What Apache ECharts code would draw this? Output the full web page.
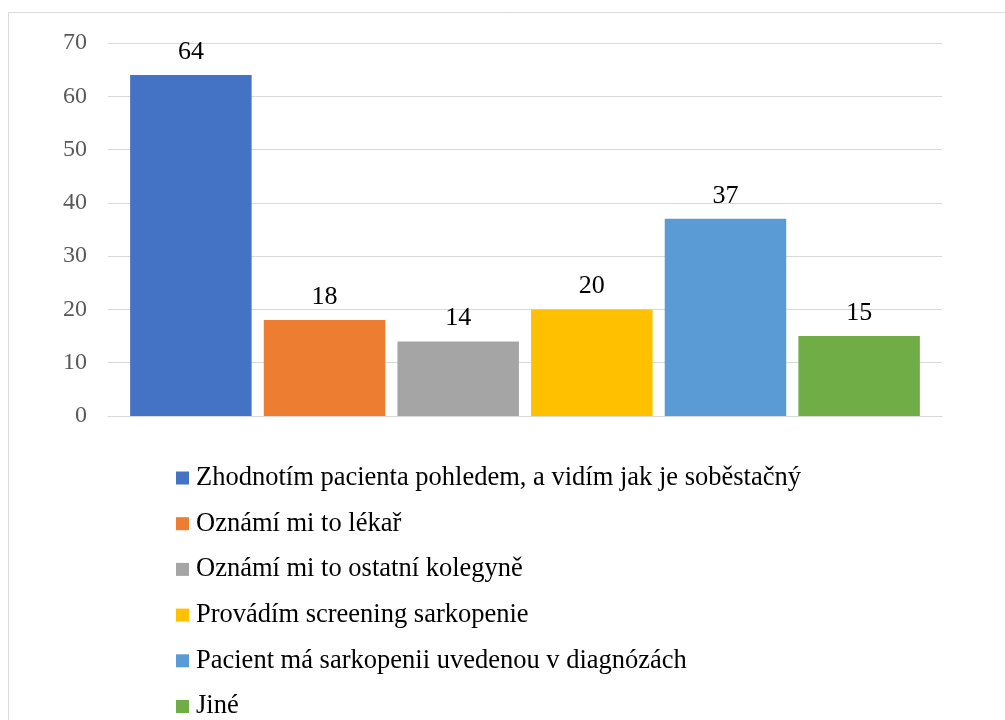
<!DOCTYPE html>
<html>
<head>
<meta charset="utf-8">
<script src="https://cdn.jsdelivr.net/npm/echarts@6/dist/echarts.min.js"></script>
<style>
  html, body { margin: 0; padding: 0; background: #fff; }
  #chart { width: 1005px; height: 720px; }
</style>
</head>
<body>
<div id="chart"></div>
<script>
var names = [
  'Zhodnotím pacienta pohledem, a vidím jak je soběstačný',
  'Oznámí mi to lékař',
  'Oznámí mi to ostatní kolegyně',
  'Provádím screening sarkopenie',
  'Pacient má sarkopenii uvedenou v diagnózách',
  'Jiné'
]
var values = [64, 18, 14, 20, 37, 15]
var colors = ['#4472C4', '#ED7D31', '#A5A5A5', '#FFC000', '#5B9BD5', '#70AD47']

var serif = '"Liberation Serif", "Times New Roman", serif'
var chart = echarts.init(document.getElementById('chart'))

var series = names.map(function (n, i) {
  return {
    name: n,
    type: 'bar',
    data: [values[i]],
    barWidth: 121.5,
    barGap: '10%',
    itemStyle: { color: colors[i] },
    label: {
      show: true,
      position: 'top',
      distance: 10,
      color: '#000',
      fontFamily: serif,
      fontSize: 26
    }
  }
})

chart.setOption({
  animation: false,
  color: colors,
  graphic: [{
    type: 'rect',
    shape: { x: 8.5, y: 12.5, width: 1010, height: 720 },
    style: { fill: 'none', stroke: '#D9D9D9', lineWidth: 1 },
    silent: true
  }],
  grid: { left: 108, right: 63, top: 43, bottom: 304 },
  legend: {
    orient: 'vertical',
    left: 171,
    top: 458,
    height: 300,
    itemWidth: 13,
    itemHeight: 13,
    itemGap: 15.7,
    icon: 'rect',
    textStyle: { color: '#000', fontFamily: serif, fontSize: 26.5, lineHeight: 30, padding: [0, 0, 0, 2] }
  },
  xAxis: {
    type: 'category',
    data: [''],
    axisLine: { lineStyle: { color: '#D9D9D9', width: 1 } },
    axisTick: { show: false },
    axisLabel: { show: false }
  },
  yAxis: {
    type: 'value',
    min: 0,
    max: 70,
    interval: 10,
    axisLine: { show: false },
    axisTick: { show: false },
    axisLabel: { color: '#595959', fontFamily: serif, fontSize: 24, margin: 21 },
    splitLine: { lineStyle: { color: '#D9D9D9', width: 1 } }
  },
  series: series
})
</script>
</body>
</html>
